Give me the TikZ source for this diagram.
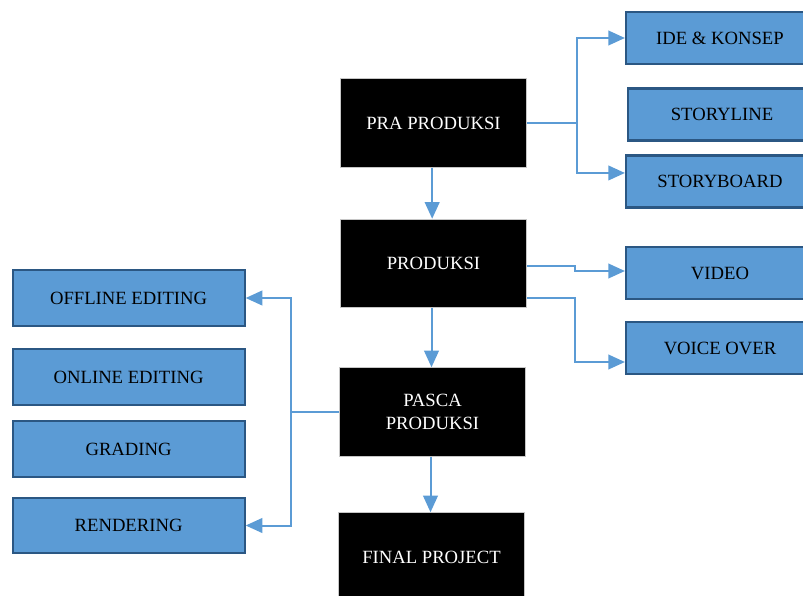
\documentclass[tikz,border=0pt]{standalone}
\usepackage{fontspec}
\setmainfont{Liberation Serif}
\usetikzlibrary{arrows.meta}

\definecolor{taskfill}{HTML}{5B9BD5}
\definecolor{taskedge}{HTML}{2B5783}
\definecolor{linkcol}{HTML}{5B9BD5}

\tikzset{
  stage/.style={rectangle, fill=black, draw=gray!45, line width=0.6pt, text=white,
    minimum width=140pt, minimum height=66.5pt, align=center,
    font=\fontsize{14}{17.8}\selectfont},
  task/.style={rectangle, fill=taskfill, draw=taskedge, line width=1.6pt, text=black,
    font=\fontsize{14}{17.8}\selectfont},
  lefttask/.style={task, minimum width=174pt, minimum height=41.6pt},
  righttask/.style={task, minimum width=141pt, minimum height=39pt},
  link/.style={draw=linkcol, line width=1.5pt, -{Triangle[length=12.5pt,width=11pt]}}
}

\begin{document}
\begin{tikzpicture}[x=0.75pt,y=-0.75pt]
            \useasboundingbox (0,0) rectangle (803,596);

            % Main stages
            \node[stage] (pra) at (433.5,123) {PRA PRODUKSI};
            \node[stage] (prod) at (433.5,263.5) {PRODUKSI};
            \node[stage] (pasca) at (432.5,412) {PASCA\\PRODUKSI};
            \node[stage] (final) at (431.5,557) {FINAL PROJECT};

            % Right tasks
            \node[righttask] (ide) at (720,38) {IDE \& KONSEP};
            \node[righttask] (storyline) at (722,114.5) {STORYLINE};
            \node[righttask] (storyboard) at (720,181.5) {STORYBOARD};
            \node[righttask] (video) at (720,273) {VIDEO};
            \node[righttask] (voice) at (720,348) {VOICE OVER};

            % Left tasks
            \node[lefttask] (offline) at (128.6,298) {OFFLINE EDITING};
            \node[lefttask] (online) at (128.6,377) {ONLINE EDITING};
            \node[lefttask] (grading) at (128.6,449) {GRADING};
            \node[lefttask] (render) at (128.6,525.5) {RENDERING};

            % Arrows
            \draw[link] (pra.east) -- ++(50,0) |- (ide.west); % Pra to ide
            \draw[link] (pra.east) -- ++(50,0) |- ([yshift=6.4pt]storyboard.west); % Pra to storyboard

            \draw[link] ([yshift=-2pt]prod.east) -- ++(48,0) |- ([yshift=1.5pt]video.west); % Produksi to video
            \draw[link] ([yshift=-26pt]prod.east) -- ++(48,0) |- ([yshift=-10.5pt]voice.west); % Produksi to voice over

            \draw[link] (pasca.west) -- ++(-48,0) |- (offline.east); % Pasca to offline
            \draw[link] (pasca.west) -- ++(-48,0) |- (render.east); % Pasca to rendering

            \draw[link] ([xshift=-1pt]pra.south) -- ([xshift=-1pt]pra.south |- prod.north); % Pra to produksi
            \draw[link] ([xshift=-1.5pt]prod.south) -- ([xshift=-1.5pt]prod.south |- pasca.north); % Produksi to pasca
            \draw[link] ([xshift=-1.5pt]pasca.south) -- ([xshift=-1.5pt]pasca.south |- final.north); % Pasca to final

\end{tikzpicture}
\end{document}
